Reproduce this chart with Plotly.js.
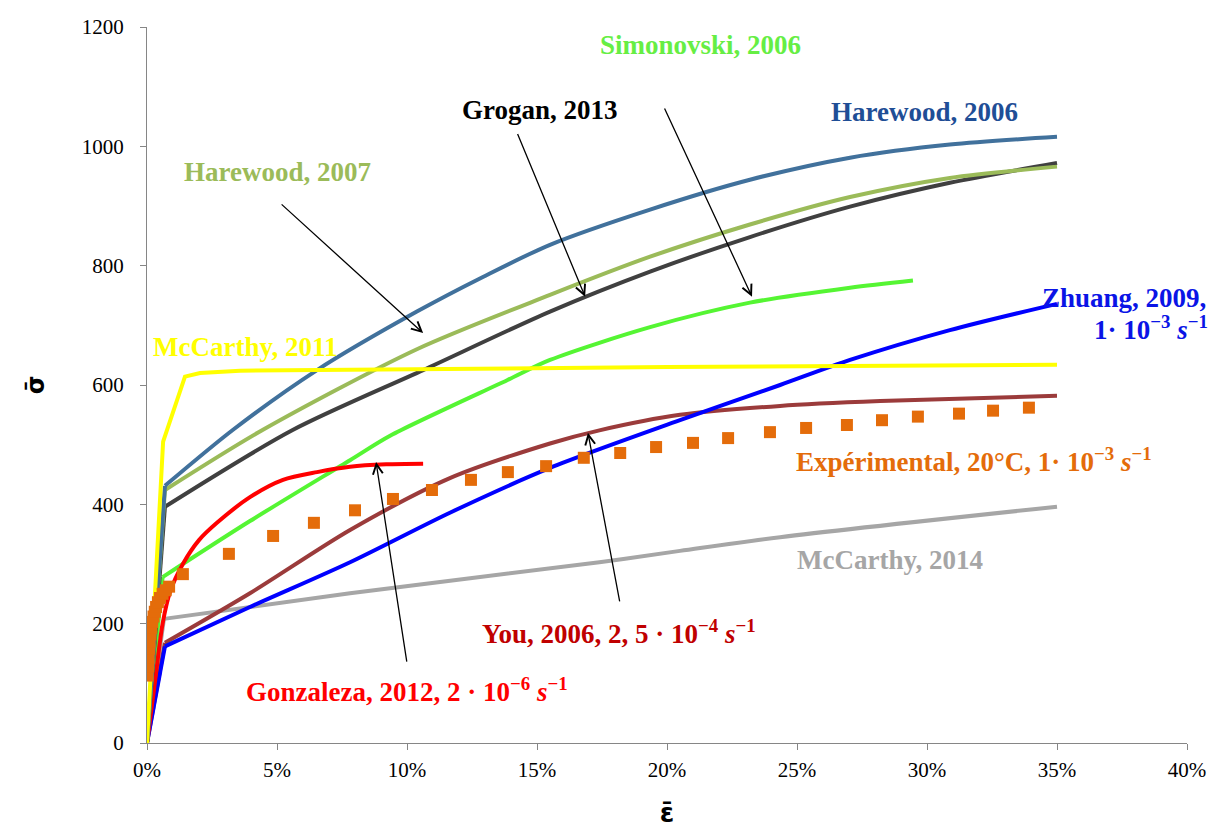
<!DOCTYPE html>
<html>
<head>
<meta charset="utf-8">
<script src="https://cdn.plot.ly/plotly-3.0.1.min.js"></script>
<style>html,body{margin:0;padding:0;background:#fff;}#chart{width:1221px;height:840px;}</style>
</head>
<body>
<div id="chart"></div>
<script>
// Strain in %, stress in MPa
const harewood2006_x = [0, 0.69, 3.31, 6.54, 10.38, 12.92, 15.5, 19.35, 23.19, 27.04, 30.88, 35];
const harewood2006_y = [0, 431, 525, 625, 723, 781, 835, 894, 944, 981, 1003, 1016];

const harewood2007_x = [0, 0.69, 4.46, 10.38, 15.5, 19.35, 23.19, 27.04, 30.88, 35];
const harewood2007_y = [0, 424, 525, 660, 751, 815, 869, 915, 947, 966];

const grogan_x = [0, 0.69, 5.62, 10.62, 15.5, 19.35, 23.19, 27.04, 30.88, 35];
const grogan_y = [0, 396, 525, 625, 723, 790, 848, 899, 939, 972];

const simonovski_x = [0, 0.6, 3.96, 7.81, 9.35, 13.85, 15.5, 19.35, 23.19, 27.04, 29.46];
const simonovski_y = [0, 278, 372, 474, 515, 608, 642, 697, 738, 763, 775];

const mccarthy2011_x = [0, 0.62, 1.46, 2.04, 3.58, 8.6, 20, 35];
const mccarthy2011_y = [0, 505, 614, 620, 624, 626, 630, 634];

const zhuang_x = [0, 0.69, 3.96, 7.81, 11.65, 15.5, 20.5, 24.35, 27.04, 30.88, 35];
const zhuang_y = [0, 162, 228, 303, 386, 461, 541, 600, 642, 692, 736];

const you_x = [0, 0.69, 3.96, 7.81, 11.65, 15.5, 17.4, 20.5, 24.35, 28.2, 35];
const you_y = [0, 168, 251, 357, 444, 502, 524, 550, 565, 573, 582];

const gonzaleza_x = [0, 0.3, 0.6, 0.9, 1.38, 2.0, 2.69, 3.96, 5.23, 6.54, 7.81, 9.2, 10.62];
const gonzaleza_y = [0, 100, 200, 255, 300, 340, 369, 412, 441, 454, 463, 467, 468];

const mccarthy2014_x = [0, 0.65, 7.81, 17.4, 20.5, 24.35, 35];
const mccarthy2014_y = [0, 208, 251, 303, 322, 345, 396];

const experimental_x = [0.02, 0.04, 0.06, 0.08, 0.1, 0.13, 0.16, 0.2, 0.25, 0.3, 0.35, 0.42, 0.5, 0.6, 0.72, 0.85, 1.38, 3.15, 4.85, 6.42, 8.0, 9.46, 10.96, 12.46, 13.88, 15.35, 16.8, 18.2, 19.58, 21.0, 22.35, 23.96, 25.35, 26.92, 28.27, 29.65, 31.23, 32.54, 33.92];
const experimental_y = [113, 128, 143, 158, 170, 182, 193, 203, 212, 220, 228, 236, 243, 250, 256, 262, 283, 317, 347, 369, 390, 409, 424, 441, 454, 464, 478, 486, 496, 503, 511, 521, 528, 533, 541, 547, 552, 557, 562];

const xTicks = [0, 5, 10, 15, 20, 25, 30, 35, 40];
const yTicks = [0, 200, 400, 600, 800, 1000, 1200];

// elastic part drawn straight, hardening part drawn smooth
function curve(x, y, color, name) {
  return [
    {x: x.slice(0, 2), y: y.slice(0, 2), type: 'scatter', mode: 'lines', name: name,
     line: {color: color, width: 4}, hoverinfo: 'skip'},
    {x: x.slice(1), y: y.slice(1), type: 'scatter', mode: 'lines', name: name,
     line: {color: color, width: 4, shape: 'spline', smoothing: 0.8}, hoverinfo: 'skip'}
  ];
}
function plain(x, y, color, name, shape) {
  return [{x: x, y: y, type: 'scatter', mode: 'lines', name: name,
           line: {color: color, width: 4, shape: shape || 'linear', smoothing: 0.8}, hoverinfo: 'skip'}];
}

const traces = [].concat(
  curve(mccarthy2014_x, mccarthy2014_y, '#A6A6A6', 'McCarthy, 2014'),
  curve(you_x, you_y, '#9B3B3B', 'You, 2006'),
  curve(zhuang_x, zhuang_y, '#0000FF', 'Zhuang, 2009'),
  curve(simonovski_x, simonovski_y, '#55F533', 'Simonovski, 2006'),
  plain(gonzaleza_x, gonzaleza_y, '#FF0000', 'Gonzaleza, 2012', 'spline'),
  curve(grogan_x, grogan_y, '#404040', 'Grogan, 2013'),
  curve(harewood2007_x, harewood2007_y, '#9BBB59', 'Harewood, 2007'),
  curve(harewood2006_x, harewood2006_y, '#41719C', 'Harewood, 2006'),
  plain(mccarthy2011_x, mccarthy2011_y, '#FFFF00', 'McCarthy, 2011'),
  [{x: experimental_x, y: experimental_y, type: 'scatter', mode: 'markers', name: 'Expérimental',
    marker: {symbol: 'square', size: 12, color: '#E46C0A'}, hoverinfo: 'skip'}]
);

const F = 'Liberation Serif';
function label(x, y, text, color, xanchor, xref) {
  return {x: x, y: y, xref: xref || 'x', yref: 'y', text: '<b>' + text + '</b>', showarrow: false,
          xanchor: xanchor || 'center', yanchor: 'middle',
          font: {family: F, size: 27, color: color}};
}
function arrow(x, y, ax, ay) {
  return {x: x, y: y, ax: ax, ay: ay, xref: 'x', yref: 'y', axref: 'x', ayref: 'y',
          text: '', showarrow: true, arrowhead: 5, arrowsize: 1.5, arrowwidth: 1.3,
          arrowcolor: '#000000', standoff: 0, startstandoff: 0};
}

const annotations = [
  label(21.27, 1170, 'Simonovski, 2006', '#66EE44'),
  label(15.12, 1061, 'Grogan, 2013', '#000000'),
  label(29.92, 1058, 'Harewood, 2006', '#1F4E96'),
  label(5.0, 957, 'Harewood, 2007', '#9BBB59'),
  label(3.77, 664, 'McCarthy, 2011', '#FFFF00'),
  label(1.02, 746, 'Zhuang, 2009,', '#0A14E6', 'right', 'paper'),
  label(1.022, 696, '1· 10<sup>−3</sup> <i>s</i><sup>−1</sup>', '#0A14E6', 'right', 'paper'),
  label(31.8, 474, 'Expérimental, 20°C, 1· 10<sup>−3</sup> <i>s</i><sup>−1</sup>', '#E46C0A'),
  label(28.58, 307, 'McCarthy, 2014', '#A6A6A6'),
  label(18.15, 186, 'You, 2006, 2, 5 · 10<sup>−4</sup> <i>s</i><sup>−1</sup>', '#C00000'),
  label(10.0, 89, 'Gonzaleza, 2012, 2 · 10<sup>−6</sup> <i>s</i><sup>−1</sup>', '#FF0000'),
  arrow(10.62, 687, 5.12, 905),
  arrow(16.85, 748, 14.23, 1023),
  arrow(23.27, 748, 19.88, 1066),
  arrow(8.81, 471, 10.0, 134),
  arrow(16.96, 520, 18.19, 235)
];

const layout = {
  width: 1221, height: 840,
  margin: {l: 147, r: 34, t: 27, b: 97},
  paper_bgcolor: '#FFFFFF', plot_bgcolor: '#FFFFFF',
  font: {family: F, size: 21, color: '#000000'},
  showlegend: false,
  xaxis: {
    range: [0, 40], tickmode: 'array', tickvals: xTicks, ticktext: xTicks.map(v => v + '%'),
    showgrid: false, zeroline: false, showline: true, linecolor: '#868686', linewidth: 1,
    ticks: 'outside', ticklen: 6, tickcolor: '#868686', tickwidth: 1,
    tickfont: {family: F, size: 21, color: '#000000'},
    ticklabelstandoff: 2,
    title: {text: '<b>ε̄</b>', standoff: 22, font: {family: 'DejaVu Sans', size: 26, color: '#000000'}}
  },
  yaxis: {
    range: [0, 1200], tickmode: 'array', tickvals: yTicks, ticktext: yTicks.map(v => String(v)),
    showgrid: false, zeroline: false, showline: true, linecolor: '#868686', linewidth: 1,
    ticks: 'outside', ticklen: 6, tickcolor: '#868686', tickwidth: 1,
    tickfont: {family: F, size: 21, color: '#000000'},
    ticklabelstandoff: 12,
    title: {text: '<b>σ̄</b>', standoff: 30, font: {family: 'DejaVu Sans', size: 24, color: '#000000'}}
  },
  annotations: annotations
};

Plotly.newPlot('chart', traces, layout, {displayModeBar: false, staticPlot: true});
</script>
</body>
</html>
